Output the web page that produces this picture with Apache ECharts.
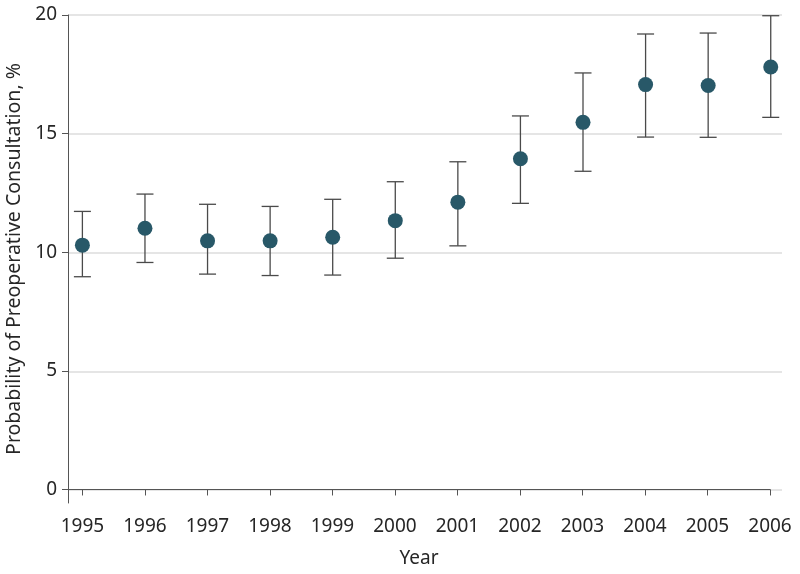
<!DOCTYPE html>
<html>
<head>
<meta charset="utf-8">
<script src="https://cdn.jsdelivr.net/npm/echarts@6/dist/echarts.min.js"></script>
<style>html,body{margin:0;padding:0;background:#fff}#c{width:800px;height:574px}</style>
</head>
<body>
<div id="c"></div>
<script>
const years = [1995,1996,1997,1998,1999,2000,2001,2002,2003,2004,2005,2006];
const estimate = [10.31,11.02,10.49,10.49,10.64,11.34,12.12,13.95,15.48,17.07,17.03,17.81];
const lower = [8.98,9.58,9.09,9.03,9.05,9.76,10.28,12.07,13.42,14.86,14.85,15.69];
const upper = [11.73,12.46,12.03,11.94,12.24,12.98,13.82,15.75,17.56,19.20,19.24,19.97];
const yTicks = [0,5,10,15,20];

const font = '"Noto Sans", sans-serif';
const textColor = '#262626';

const chart = echarts.init(document.getElementById('c'));
chart.setOption({
  animation: false,
  grid: [
    {left: 68, right: 18, top: 15, bottom: 84, outerBoundsMode: 'none', containLabel: false},
    {left: 68, right: 30, top: 15, bottom: 71, outerBoundsMode: 'none', containLabel: false}
  ],
  xAxis: [
    {gridIndex: 0, type: 'value', min: 1994.77, max: 2006.18, show: false},
    {gridIndex: 1, type: 'value', min: 1994.77, max: 2006,
     axisLine: {show: true, lineStyle: {color: '#555', width: 1}},
     axisTick: {show: true, length: 6, lineStyle: {color: '#555'}, customValues: years},
     axisLabel: {show: true, customValues: years, fontFamily: font, fontSize: 19, color: textColor, margin: 14, formatter: v => String(v)},
     splitLine: {show: false},
     name: 'Year', nameLocation: 'middle', nameGap: 46,
     nameTextStyle: {fontFamily: font, fontSize: 19, color: textColor}}
  ],
  yAxis: [
    {gridIndex: 0, type: 'value', min: 0, max: 20, interval: 5,
     axisLine: {show: false}, axisTick: {show: false}, axisLabel: {show: false},
     splitLine: {show: true, lineStyle: {color: '#dcdcdc', width: 1.5}}},
    {gridIndex: 1, type: 'value', min: -0.57, max: 20,
     axisLine: {show: true, lineStyle: {color: '#555', width: 1}},
     axisTick: {show: true, length: 6, lineStyle: {color: '#555'}, customValues: yTicks},
     axisLabel: {show: true, customValues: yTicks, fontFamily: font, fontSize: 19, color: textColor, margin: 11},
     splitLine: {show: false},
     name: 'Probability of Preoperative Consultation, %', nameLocation: 'middle', nameGap: 40,
     nameTextStyle: {fontFamily: font, fontSize: 19.5, color: textColor}}
  ],
  series: [
    {
      type: 'custom', xAxisIndex: 0, yAxisIndex: 0,
      data: years.map((y, i) => [y, lower[i], upper[i]]),
      renderItem: function (params, api) {
        const x = api.value(0);
        const lo = api.coord([x, api.value(1)]);
        const hi = api.coord([x, api.value(2)]);
        const hw = 8.5;
        const st = {stroke: '#4a4a4a', lineWidth: 1.3};
        return {type: 'group', children: [
          {type: 'line', shape: {x1: lo[0], y1: lo[1], x2: hi[0], y2: hi[1]}, style: st},
          {type: 'line', shape: {x1: lo[0]-hw, y1: lo[1], x2: lo[0]+hw, y2: lo[1]}, style: st},
          {type: 'line', shape: {x1: hi[0]-hw, y1: hi[1], x2: hi[0]+hw, y2: hi[1]}, style: st}
        ]};
      },
      z: 2
    },
    {
      type: 'scatter', xAxisIndex: 0, yAxisIndex: 0,
      data: years.map((y, i) => [y, estimate[i]]),
      symbolSize: 15,
      itemStyle: {color: '#285868', opacity: 1},
      z: 3
    }
  ]
});
</script>
</body>
</html>
